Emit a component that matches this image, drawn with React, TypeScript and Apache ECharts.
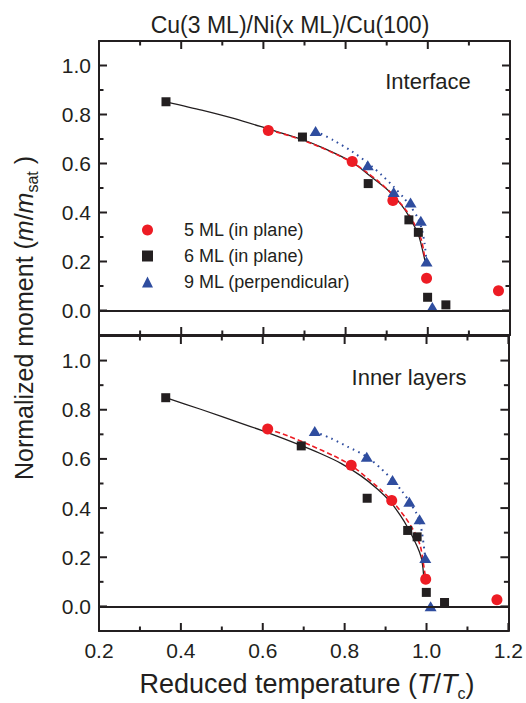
import { useEffect, useRef } from 'react';
import * as echarts from 'echarts';

const FONT = '"Liberation Sans", Arial, Helvetica, sans-serif';
const INK = '#231f20';
const RED = '#ed1c24';
const BLUE = '#2f4d9f';
const BLACK = '#231f20';

const NAME5 = '5 ML (in plane)';
const NAME6 = '6 ML (in plane)';
const NAME9 = '9 ML (perpendicular)';

const X_MIN = 0.2;
const X_MAX = 1.2;
const Y_MIN = -0.1;
const Y_MAX = 1.1;
const X_TICKS = [0.2, 0.4, 0.6, 0.8, 1.0, 1.2];
const X_MINOR_TICKS = [0.3, 0.5, 0.7, 0.9, 1.1];
const Y_TICKS = [0.0, 0.2, 0.4, 0.6, 0.8, 1.0];
const Y_MINOR_TICKS = [0.1, 0.3, 0.5, 0.7, 0.9];

// ---- Interface (top panel) measured points ----
const T5_TOP = [0.612, 0.816, 0.915, 0.997, 1.172];
const M5_TOP = [0.735, 0.608, 0.449, 0.132, 0.081];
const T6_TOP = [0.363, 0.695, 0.855, 0.954, 0.977, 0.9995, 1.044];
const M6_TOP = [0.852, 0.708, 0.518, 0.37, 0.319, 0.054, 0.023];
const T9_TOP = [0.727, 0.854, 0.917, 0.958, 0.983, 0.997, 1.011];
const M9_TOP = [0.733, 0.593, 0.484, 0.441, 0.366, 0.2, 0.014];

// ---- Interface fit curves ----
const FIT6_TOP_T = [0.363, 0.45, 0.53, 0.612, 0.693, 0.742, 0.815, 0.855, 0.904, 0.936, 0.954, 0.977, 0.985, 0.993];
const FIT6_TOP_M = [0.852, 0.818, 0.783, 0.741, 0.699, 0.666, 0.607, 0.555, 0.49, 0.43, 0.385, 0.31, 0.262, 0.204];
const FIT5_TOP_T = [0.612, 0.673, 0.721, 0.774, 0.816, 0.851, 0.88, 0.915, 0.949, 0.97, 0.985, 0.993];
const FIT5_TOP_M = [0.738, 0.708, 0.679, 0.64, 0.604, 0.565, 0.527, 0.473, 0.405, 0.345, 0.285, 0.21];
const FIT9_TOP_T = [0.727, 0.77, 0.815, 0.854, 0.888, 0.917, 0.94, 0.958, 0.975, 0.985, 0.992, 0.997];
const FIT9_TOP_M = [0.733, 0.695, 0.65, 0.602, 0.553, 0.505, 0.463, 0.425, 0.38, 0.335, 0.275, 0.2];

// ---- Inner layers (bottom panel) measured points ----
const T5_BOT = [0.612, 0.816, 0.915, 0.998, 1.172];
const M5_BOT = [0.722, 0.574, 0.431, 0.111, 0.027];
const T6_BOT = [0.363, 0.694, 0.855, 0.954, 0.977, 0.9995, 1.044];
const M6_BOT = [0.849, 0.653, 0.44, 0.309, 0.283, 0.057, 0.016];
const T9_BOT = [0.727, 0.854, 0.917, 0.958, 0.983, 0.997, 1.01];
const M9_BOT = [0.714, 0.609, 0.514, 0.426, 0.355, 0.197, 0.001];

// ---- Inner layers fit curves ----
const FIT6_BOT_T = [0.363, 0.45, 0.551, 0.612, 0.693, 0.742, 0.79, 0.839, 0.88, 0.912, 0.936, 0.955, 0.977, 0.987, 0.991, 0.993];
const FIT6_BOT_M = [0.849, 0.801, 0.743, 0.707, 0.655, 0.621, 0.583, 0.532, 0.478, 0.425, 0.37, 0.318, 0.245, 0.2, 0.16, 0.125];
const FIT5_BOT_T = [0.612, 0.661, 0.717, 0.774, 0.816, 0.855, 0.888, 0.915, 0.949, 0.973, 0.985, 0.991, 0.998];
const FIT5_BOT_M = [0.722, 0.694, 0.655, 0.612, 0.574, 0.522, 0.475, 0.431, 0.36, 0.295, 0.245, 0.19, 0.113];
const FIT9_BOT_T = [0.727, 0.766, 0.807, 0.854, 0.888, 0.917, 0.941, 0.958, 0.975, 0.983, 0.989, 0.997];
const FIT9_BOT_M = [0.711, 0.684, 0.65, 0.609, 0.562, 0.514, 0.467, 0.426, 0.38, 0.345, 0.3, 0.197];

const pairs = (t: number[], m: number[]) => t.map((v, i) => [v, m[i]]);

const near = (list: number[], v: number) => list.some((t) => Math.abs(t - v) < 1e-6);

const MAJOR_LEN = 8;
const MINOR_LEN = 4.5;

function xMain(gridIndex: number, position: 'top' | 'bottom', labels: boolean) {
  return {
    type: 'value', gridIndex, position, min: X_MIN, max: X_MAX, interval: 0.2,
    axisLine: { show: true, onZero: false, lineStyle: { color: INK, width: 2 } },
    axisTick: { show: false },
    splitLine: { show: false },
    axisLabel: {
      show: labels, margin: 9, fontFamily: FONT, fontSize: 21, color: INK,
      formatter: (v: number) => (near(X_TICKS, v) ? v.toFixed(1) : ''),
    },
  };
}

function yMain(gridIndex: number, position: 'left' | 'right', labels: boolean) {
  return {
    type: 'value', gridIndex, position, min: Y_MIN, max: Y_MAX, interval: 0.1,
    axisLine: { show: true, onZero: false, lineStyle: { color: INK, width: 2 } },
    axisTick: { show: false },
    splitLine: { show: false },
    axisLabel: {
      show: labels, margin: 8, fontFamily: FONT, fontSize: 21, color: INK,
      formatter: (v: number) => (near(Y_TICKS, v) ? v.toFixed(1) : ''),
    },
  };
}

// Inward ticks on all four sides of a panel, placed through the axes' own scales
function tickSeries(xi: number, yi: number, values: number[], kind: 'x' | 'y', len: number) {
  return {
    type: 'custom',
    name: 'ticks',
    xAxisIndex: xi,
    yAxisIndex: yi,
    silent: true,
    clip: false,
    z: 5,
    data: values.map((v) => (kind === 'x' ? [v, Y_MIN] : [X_MIN, v])),
    renderItem: (_p: any, api: any) => {
      const st = { stroke: INK, lineWidth: 2 };
      if (kind === 'x') {
        const v = api.value(0);
        const a = api.coord([v, Y_MIN]);
        const b = api.coord([v, Y_MAX]);
        return {
          type: 'group',
          children: [
            { type: 'line', shape: { x1: a[0], y1: a[1], x2: a[0], y2: a[1] - len }, style: st },
            { type: 'line', shape: { x1: b[0], y1: b[1], x2: b[0], y2: b[1] + len }, style: st },
          ],
        };
      }
      const v = api.value(1);
      const a = api.coord([X_MIN, v]);
      const b = api.coord([X_MAX, v]);
      return {
        type: 'group',
        children: [
          { type: 'line', shape: { x1: a[0], y1: a[1], x2: a[0] + len, y2: a[1] }, style: st },
          { type: 'line', shape: { x1: b[0], y1: b[1], x2: b[0] - len, y2: b[1] }, style: st },
        ],
      };
    },
  };
}

function panelSeries(
  xi: number,
  yi: number,
  s5: number[][],
  s6: number[][],
  s9: number[][],
  f5: number[][],
  f6: number[][],
  f9: number[][],
  tag: string,
) {
  const lineBase = { type: 'line', xAxisIndex: xi, yAxisIndex: yi, showSymbol: false, symbol: 'none', smooth: 0.25, silent: true, z: 2 };
  return [
    tickSeries(xi, yi, X_TICKS, 'x', MAJOR_LEN),
    tickSeries(xi, yi, X_MINOR_TICKS, 'x', MINOR_LEN),
    tickSeries(xi, yi, Y_TICKS, 'y', MAJOR_LEN),
    tickSeries(xi, yi, Y_MINOR_TICKS, 'y', MINOR_LEN),
    { ...lineBase, name: 'fit6' + tag, data: f6, lineStyle: { color: BLACK, width: 1.3, type: 'solid' } },
    { ...lineBase, name: 'fit5' + tag, data: f5, lineStyle: { color: RED, width: 1.6, type: [5, 3] } },
    { ...lineBase, name: 'fit9' + tag, data: f9, lineStyle: { color: BLUE, width: 2, type: [1.6, 4.4] } },
    {
      type: 'scatter', name: NAME5, xAxisIndex: xi, yAxisIndex: yi, data: s5, symbol: 'circle', symbolSize: 11,
      itemStyle: { color: RED, opacity: 1 }, z: 4,
      markLine: {
        silent: true, symbol: 'none', label: { show: false },
        lineStyle: { color: INK, width: 2, type: 'solid' },
        data: [{ yAxis: 0 }],
      },
    },
    { type: 'scatter', name: NAME6, xAxisIndex: xi, yAxisIndex: yi, data: s6, symbol: 'rect', symbolSize: 9, itemStyle: { color: BLACK, opacity: 1 }, z: 4 },
    { type: 'scatter', name: NAME9, xAxisIndex: xi, yAxisIndex: yi, data: s9, symbol: 'triangle', symbolSize: [12, 10], itemStyle: { color: BLUE, opacity: 1 }, z: 4 },
  ];
}

export default function App() {
  const ref = useRef<HTMLDivElement>(null);
  useEffect(() => {
    if (!ref.current) return;
    const chart = echarts.init(ref.current, null, { renderer: 'svg' });
    const option = {
      animation: false,
      backgroundColor: '#ffffff',
      grid: [
        { left: 99, right: 16, top: 41, height: 294 },
        { left: 99, right: 16, top: 336, height: 295 },
      ],
      xAxis: [
        xMain(0, 'bottom', false),
        xMain(0, 'top', false),
        xMain(1, 'bottom', true),
        xMain(1, 'top', false),
      ],
      yAxis: [
        yMain(0, 'left', true),
        yMain(0, 'right', false),
        yMain(1, 'left', true),
        yMain(1, 'right', false),
      ],
      legend: {
        orient: 'vertical',
        left: 137,
        top: 216,
        itemGap: 8,
        itemWidth: 11,
        itemHeight: 11,
        selectedMode: false,
        data: [
          { name: NAME5, icon: 'circle' },
          { name: NAME6, icon: 'rect' },
          { name: NAME9, icon: 'triangle' },
        ],
        formatter: '{t|{name}}',
        textStyle: {
          fontFamily: FONT,
          fontSize: 18,
          color: INK,
          rich: { t: { fontFamily: FONT, fontSize: 18, color: INK, padding: [0, 0, 0, 26] } },
        },
      },
      graphic: [
        {
          type: 'text', x: 290, y: 25, silent: true,
          style: { text: 'Cu(3 ML)/Ni(x ML)/Cu(100)', font: `23px ${FONT}`, fill: INK, align: 'center', verticalAlign: 'middle' },
        },
        {
          type: 'text', x: 428, y: 81, silent: true,
          style: { text: 'Interface', font: `22px ${FONT}`, fill: INK, align: 'center', verticalAlign: 'middle' },
        },
        {
          type: 'text', x: 409, y: 377, silent: true,
          style: { text: 'Inner layers', font: `22px ${FONT}`, fill: INK, align: 'center', verticalAlign: 'middle' },
        },
        {
          type: 'text', x: 307, y: 684, silent: true,
          style: {
            text: 'Reduced temperature ({i|T}/{i|T}{s|c})',
            font: `27px ${FONT}`, fontFamily: FONT, fontSize: 27, lineHeight: 34, fill: INK, align: 'center', verticalAlign: 'middle',
            rich: {
              i: { fontFamily: FONT, fontSize: 27, fontStyle: 'italic', lineHeight: 34, fill: INK },
              s: { fontFamily: FONT, fontSize: 16, lineHeight: 14, verticalAlign: 'bottom', fill: INK },
            },
          },
        },
        {
          type: 'text', x: 24, y: 318, rotation: Math.PI / 2, silent: true,
          style: {
            text: 'Normalized moment ({i|m}/{i|m}{s|sat} )',
            font: `25px ${FONT}`, fontFamily: FONT, fontSize: 25, lineHeight: 32, fill: INK, align: 'center', verticalAlign: 'middle',
            rich: {
              i: { fontFamily: FONT, fontSize: 25, fontStyle: 'italic', lineHeight: 32, fill: INK },
              s: { fontFamily: FONT, fontSize: 16, lineHeight: 14, verticalAlign: 'bottom', fill: INK },
            },
          },
        },
      ],
      series: [
        ...panelSeries(0, 0,
          pairs(T5_TOP, M5_TOP), pairs(T6_TOP, M6_TOP), pairs(T9_TOP, M9_TOP),
          pairs(FIT5_TOP_T, FIT5_TOP_M), pairs(FIT6_TOP_T, FIT6_TOP_M), pairs(FIT9_TOP_T, FIT9_TOP_M), 'top'),
        ...panelSeries(2, 2,
          pairs(T5_BOT, M5_BOT), pairs(T6_BOT, M6_BOT), pairs(T9_BOT, M9_BOT),
          pairs(FIT5_BOT_T, FIT5_BOT_M), pairs(FIT6_BOT_T, FIT6_BOT_M), pairs(FIT9_BOT_T, FIT9_BOT_M), 'bot'),
      ],
    };
    chart.setOption(option as any);
    return () => chart.dispose();
  }, []);
  return (
    <div
      ref={ref}
      style={{ position: 'absolute', left: 0, top: 0, width: 526, height: 703, background: '#fff' }}
    />
  );
}
